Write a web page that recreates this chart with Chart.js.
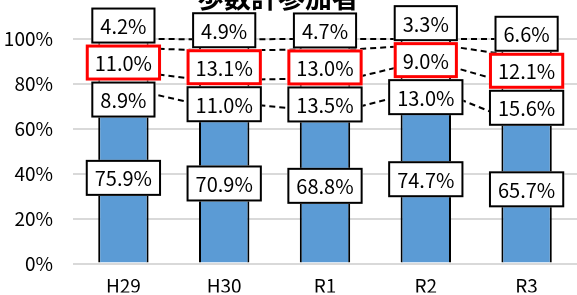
<!DOCTYPE html>
<html lang="ja">
<head>
<meta charset="utf-8">
<script src="https://cdn.jsdelivr.net/npm/chart.js@4/dist/chart.umd.min.js"></script>
<style>
  html, body { margin: 0; padding: 0; background: #fff; }
  .wrap { position: relative; width: 577px; height: 295px; }
</style>
</head>
<body>
<div class="wrap"><canvas id="chart"></canvas></div>
<script>
/* ===== データ ===== */
const chartTitle = '歩数計参加者';
const categories = ['H29', 'H30', 'R1', 'R2', 'R3'];
const seriesBase = [75.9, 70.9, 68.8, 74.7, 65.7];
const seriesSecond = [8.9, 11.0, 13.5, 13.0, 15.6];
const seriesThird = [11.0, 13.1, 13.0, 9.0, 12.1];
const seriesTop = [4.2, 4.9, 4.7, 3.3, 6.6];
const yTicks = [0, 20, 40, 60, 80, 100];

const FONT = "'Noto Sans CJK JP', 'Noto Sans', sans-serif";

/* ===== タイトル（上端で切れている） ===== */
const titlePlugin = {
  id: 'cutTitle',
  afterDraw(chart) {
    const ctx = chart.ctx;
    ctx.save();
    ctx.font = `bold 27px ${FONT}`;
    ctx.fillStyle = '#000';
    ctx.textAlign = 'center';
    ctx.textBaseline = 'alphabetic';
    ctx.fillText(chartTitle, 278, 8);
    ctx.restore();
  }
};

/* ===== 区分線（破線） ===== */
const seriesLines = {
  id: 'seriesLines',
  afterDatasetsDraw(chart) {
    const ctx = chart.ctx;
    ctx.save();
    ctx.strokeStyle = '#000';
    ctx.lineWidth = 2;
    ctx.setLineDash([6, 4]);
    chart.data.datasets.forEach((ds, d) => {
      const els = chart.getDatasetMeta(d).data;
      for (let i = 0; i < els.length - 1; i++) {
        const a = els[i], b = els[i + 1];
        ctx.beginPath();
        ctx.moveTo(a.x + a.width / 2, a.y);
        ctx.lineTo(b.x - b.width / 2, b.y);
        ctx.stroke();
      }
    });
    ctx.restore();
  }
};

/* ===== データラベル（枠付き） ===== */
function drawBox(ctx, text, cx, cy, color, lw) {
  ctx.font = `20px ${FONT}`;
  const w = ctx.measureText(text).width + 18;
  const h = 36;
  ctx.fillStyle = '#fff';
  ctx.fillRect(cx - w / 2, cy - h / 2, w, h);
  ctx.strokeStyle = color;
  ctx.lineWidth = lw;
  ctx.setLineDash([]);
  ctx.strokeRect(cx - w / 2 + lw / 2, cy - h / 2 + lw / 2, w - lw, h - lw);
  ctx.fillStyle = '#000';
  ctx.textAlign = 'center';
  ctx.textBaseline = 'middle';
  ctx.fillText(text, cx, cy + 1);
}
const boxLabels = {
  id: 'boxLabels',
  afterDatasetsDraw(chart) {
    const ctx = chart.ctx;
    const metas = chart.data.datasets.map((_, d) => chart.getDatasetMeta(d).data);
    const fmt = v => v.toFixed(1) + '%';
    const gap = 37;
    ctx.save();
    categories.forEach((_, i) => {
      const mid = d => (metas[d][i].y + metas[d][i].base) / 2;
      const x = metas[0][i].x;
      // 下段は区間の中央
      drawBox(ctx, fmt(chart.data.datasets[0].data[i]), x, mid(0), '#000', 2);
      // 上3段は重ならないように積み上げ
      const m = (mid(1) + mid(2) + mid(3)) / 3;
      drawBox(ctx, fmt(chart.data.datasets[3].data[i]), x, m - gap, '#000', 2);
      drawBox(ctx, fmt(chart.data.datasets[1].data[i]), x, m + gap, '#000', 2);
      drawBox(ctx, fmt(chart.data.datasets[2].data[i]), x, m, '#ff0000', 3);
    });
    ctx.restore();
  }
};

const barStyle = { borderColor: '#000', borderWidth: 2, barPercentage: 0.5, categoryPercentage: 1 };

new Chart(document.getElementById('chart'), {
  type: 'bar',
  data: {
    labels: categories,
    datasets: [
      { label: 'base', data: seriesBase, backgroundColor: '#5b9bd5', ...barStyle },
      { label: 'second', data: seriesSecond, backgroundColor: '#fff', ...barStyle },
      { label: 'third', data: seriesThird, backgroundColor: '#fff', ...barStyle },
      { label: 'top', data: seriesTop, backgroundColor: '#fff', ...barStyle }
    ]
  },
  options: {
    responsive: true,
    maintainAspectRatio: false,
    animation: false,
    layout: { padding: { top: 39, right: 0, left: 0, bottom: 0 } },
    plugins: { legend: { display: false }, tooltip: { enabled: false }, title: { display: false } },
    scales: {
      x: {
        stacked: true,
        grid: { display: false },
        border: { display: false },
        ticks: { color: '#000', padding: 3, font: { family: FONT, size: 19 } },
        afterFit: s => { s.height = 29; }
      },
      y: {
        stacked: true,
        min: 0,
        max: 100,
        afterBuildTicks: s => { s.ticks = yTicks.map(v => ({ value: v })); },
        grid: { color: '#d9d9d9', lineWidth: 2, drawTicks: false },
        border: { display: false },
        ticks: { color: '#000', padding: 20, font: { family: FONT, size: 19 }, callback: v => v + '%' },
        afterFit: s => { s.width = 73; }
      }
    }
  },
  plugins: [seriesLines, boxLabels, titlePlugin]
});
</script>
</body>
</html>
